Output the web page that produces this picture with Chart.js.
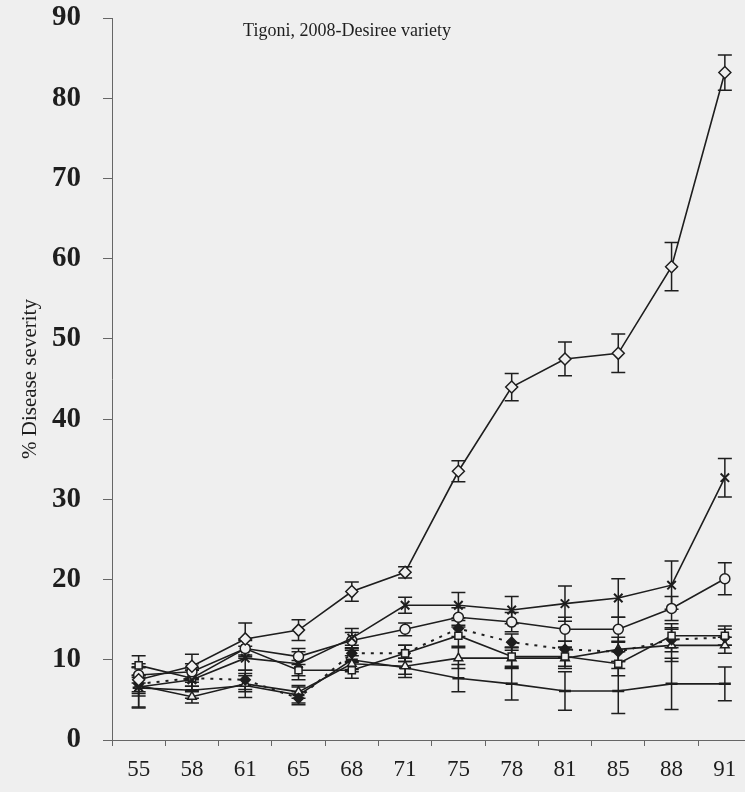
<!DOCTYPE html>
<html>
<head>
<meta charset="utf-8">
<script src="https://cdn.jsdelivr.net/npm/chart.js@4"></script>
<style>
  html, body { margin: 0; padding: 0; background: #efefef; overflow: hidden; }
  #wrap { width: 760px; height: 792px; }
</style>
</head>
<body>
<div id="wrap"><canvas id="c" width="760" height="792"></canvas></div>
<script>
// days after planting
const days = ['55', '58', '61', '65', '68', '71', '75', '78', '81', '85', '88', '91'];

// % disease severity per treatment
const diamondVals  = [7.5, 9.2, 12.6, 13.7, 18.5, 20.9, 33.5, 44.0, 47.5, 48.2, 59.0, 83.2];
const starVals     = [6.6, 7.5, 10.2, 9.5, 12.7, 16.8, 16.8, 16.2, 17.0, 17.7, 19.3, 32.7];
const circleVals   = [8.1, 8.5, 11.4, 10.4, 12.4, 13.8, 15.3, 14.7, 13.8, 13.8, 16.4, 20.1];
const squareVals   = [9.3, 7.7, 11.4, 8.7, 8.7, 10.8, 13.0, 10.4, 10.4, 9.5, 13.0, 13.0];
const filledVals   = [7.0, 7.7, 7.5, 5.2, 10.8, 10.8, 13.9, 12.2, 11.3, 11.0, 12.5, 12.8];
const triangleVals = [6.8, 5.4, 7.0, 6.0, 9.5, 9.2, 10.2, 10.2, 10.2, 11.3, 11.8, 11.8];
const plusVals     = [6.5, 6.2, 6.8, 5.6, 10.0, 9.0, 7.7, 7.0, 6.1, 6.1, 7.0, 7.0];

// error bar half-lengths
const diamondErr  = [2.0, 1.5, 2.0, 1.3, 1.2, 0.7, 1.3, 1.7, 2.1, 2.4, 3.0, 2.2];
const starErr     = [2.5, 1.5, 1.5, 1.5, 1.2, 1.0, 1.6, 1.7, 2.2, 2.4, 3.0, 2.4];
const circleErr   = [1.0, 1.0, 1.2, 1.0, 1.0, 0.8, 1.2, 1.2, 1.5, 1.5, 1.5, 2.0];
const squareErr   = [1.2, 1.0, 1.0, 1.2, 1.0, 1.0, 1.3, 1.2, 1.2, 1.5, 1.5, 1.2];
const filledErr   = [1.0, 1.0, 1.2, 0.8, 1.0, 1.0, 1.0, 1.0, 1.0, 1.2, 1.5, 1.0];
const triangleErr = [1.0, 0.8, 1.0, 0.8, 1.0, 1.0, 1.3, 1.3, 1.3, 1.5, 2.0, 1.0];
const plusErr     = [2.5, 1.0, 1.5, 1.0, 1.2, 1.2, 1.7, 2.0, 2.4, 2.8, 3.2, 2.1];

const yTicks = [0, 10, 20, 30, 40, 50, 60, 70, 80, 90];

const BG = '#efefef';
const INK = '#1e1e1e';

function series(data, err, style, opts) {
  return Object.assign({
    data: data,
    errors: err,
    borderColor: INK,
    borderWidth: 1.6,
    pointStyle: style,
    pointRadius: 5,
    pointBorderColor: INK,
    pointBorderWidth: 1.5,
    pointBackgroundColor: BG,
    tension: 0,
    fill: false
  }, opts || {});
}

// error bars drawn through the y scale, under the markers
const errorBars = {
  id: 'errorBars',
  beforeDatasetsDraw(chart) {
    const ctx = chart.ctx;
    const y = chart.scales.y;
    ctx.save();
    ctx.strokeStyle = INK;
    ctx.lineWidth = 1.5;
    chart.data.datasets.forEach((ds, i) => {
      const meta = chart.getDatasetMeta(i);
      meta.data.forEach((pt, j) => {
        const e = ds.errors[j];
        const top = y.getPixelForValue(ds.data[j] + e);
        const bot = y.getPixelForValue(ds.data[j] - e);
        ctx.beginPath();
        ctx.moveTo(pt.x, top); ctx.lineTo(pt.x, bot);
        ctx.moveTo(pt.x - 7, top); ctx.lineTo(pt.x + 7, top);
        ctx.moveTo(pt.x - 7, bot); ctx.lineTo(pt.x + 7, bot);
        ctx.stroke();
      });
    });
    ctx.restore();
  }
};

const innerTitle = {
  id: 'innerTitle',
  afterDraw(chart) {
    const ctx = chart.ctx;
    ctx.save();
    ctx.fillStyle = INK;
    ctx.font = '18px "Liberation Serif"';
    ctx.textAlign = 'center';
    ctx.textBaseline = 'middle';
    ctx.fillText('Tigoni, 2008-Desiree variety', 347, 31);
    ctx.restore();
  }
};

new Chart(document.getElementById('c'), {
  type: 'line',
  data: {
    labels: days,
    datasets: [
      series(diamondVals, diamondErr, 'rectRot', { pointRadius: 6 }),
      series(starVals, starErr, 'crossRot', { pointRadius: 6, pointBorderWidth: 2 }),
      series(circleVals, circleErr, 'circle'),
      series(squareVals, squareErr, 'rect'),
      series(filledVals, filledErr, 'rectRot', { borderDash: [3, 6], borderWidth: 2, pointBackgroundColor: INK }),
      series(triangleVals, triangleErr, 'triangle'),
      series(plusVals, plusErr, 'line', { pointRadius: 6, pointBorderWidth: 2.5 })
    ]
  },
  options: {
    responsive: false,
    animation: false,
    events: [],
    layout: { padding: { top: 4, left: 0, right: 6, bottom: 0 } },
    plugins: { legend: { display: false }, tooltip: { enabled: false } },
    scales: {
      x: {
        offset: true,
        grid: { display: true, offset: true, drawOnChartArea: false, tickLength: 6, color: '#666' },
        border: { color: '#666', width: 1 },
        ticks: {
          color: INK,
          font: { family: '"Liberation Serif"', size: 23 },
          padding: 10,
          maxRotation: 0,
          autoSkip: false
        },
        afterFit(scale) { scale.height = 52; }
      },
      y: {
        min: 0,
        max: 90,
        afterBuildTicks(scale) { scale.ticks = yTicks.map(v => ({ value: v })); },
        grid: { display: true, drawOnChartArea: false, tickLength: 9, color: '#666' },
        border: { color: '#666', width: 1 },
        ticks: {
          color: INK,
          font: { family: '"Liberation Serif"', size: 29, weight: 'bold', lineHeight: 1 },
          padding: 22
        },
        title: {
          display: true,
          text: '% Disease severity',
          color: INK,
          font: { family: '"Liberation Serif"', size: 21 },
          padding: { top: 18, bottom: 0 }
        },
        afterFit(scale) {
          scale.width = 112;
          scale.paddingTop = 18;
          scale.paddingBottom = 2;
        }
      }
    }
  },
  plugins: [errorBars, innerTitle]
});
</script>
</body>
</html>
